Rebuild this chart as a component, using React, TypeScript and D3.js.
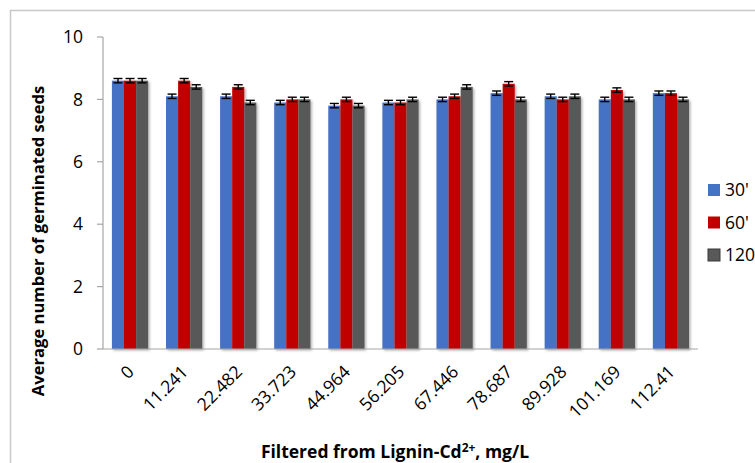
import React from "react";
import * as d3 from "d3";

// Concentration of filtrate (mg/L) used for each group of bars
const categories = ["0", "11.241", "22.482", "33.723", "44.964", "56.205", "67.446", "78.687", "89.928", "101.169", "112.41"];

// Average number of germinated seeds at each exposure time
const series30 = [8.6, 8.1, 8.1, 7.9, 7.8, 7.9, 8.0, 8.2, 8.1, 8.0, 8.2];
const series60 = [8.6, 8.6, 8.4, 8.0, 8.0, 7.9, 8.1, 8.5, 8.0, 8.3, 8.2];
const series120 = [8.6, 8.4, 7.9, 8.0, 7.8, 8.0, 8.4, 8.0, 8.1, 8.0, 8.0];

// Standard error shown on every bar
const errors30 = [0.07, 0.07, 0.07, 0.07, 0.07, 0.07, 0.07, 0.07, 0.07, 0.07, 0.07];
const errors60 = [0.07, 0.07, 0.07, 0.07, 0.07, 0.07, 0.07, 0.07, 0.07, 0.07, 0.07];
const errors120 = [0.07, 0.07, 0.07, 0.07, 0.07, 0.07, 0.07, 0.07, 0.07, 0.07, 0.07];

const seriesNames = ["30'", "60'", "120'"];
const yTicks = [0, 2, 4, 6, 8, 10];

const W = 755;
const H = 463;
const plot = { left: 103, right: 698, top: 37, bottom: 349 };
const colors = ["#4472C4", "#C00000", "#595959"];
const font = "'Open Sans', 'DejaVu Sans', sans-serif";

export default function App() {
  const seriesValues = [series30, series60, series120];
  const seriesErrors = [errors30, errors60, errors120];

  const x = d3
    .scaleBand<string>()
    .domain(categories)
    .range([plot.left, plot.right])
    .paddingInner(0.33)
    .paddingOuter(0.165);
  const xInner = d3
    .scaleBand<string>()
    .domain(seriesNames)
    .range([0, x.bandwidth()]);
  const y = d3.scaleLinear().domain([0, 10]).range([plot.bottom, plot.top]);

  const axisColor = "#a6a6a6";

  return (
    <svg
      width={W}
      height={H}
      style={{ position: "absolute", left: 0, top: 0, background: "#fff" }}
      fontFamily={font}
    >
      <defs>
        <filter id="barShadow" x="-20%" y="-5%" width="150%" height="115%">
          <feDropShadow dx="1.5" dy="1.5" stdDeviation="1" floodColor="#000" floodOpacity="0.3" />
        </filter>
      </defs>

      {/* chart frame */}
      <rect x={10.5} y={10.5} width={W + 20} height={H + 20} fill="#fff" stroke="#c8c8c8" strokeWidth={1.5} />

      {/* y axis */}
      <line x1={plot.left} x2={plot.left} y1={plot.top} y2={plot.bottom} stroke={axisColor} strokeWidth={1.2} />
      {yTicks.map((t) => (
        <g key={t}>
          <line x1={plot.left - 6} x2={plot.left} y1={y(t)} y2={y(t)} stroke={axisColor} strokeWidth={1.2} />
          <text x={83} y={y(t)} dy="0.35em" textAnchor="end" fontSize={17.5} fill="#000">
            {t}
          </text>
        </g>
      ))}

      {/* bars */}
      {seriesValues.map((vals, si) => (
        <g key={si} filter="url(#barShadow)">
          {vals.map((v, ci) => {
            const bx = (x(categories[ci]) as number) + (xInner(seriesNames[si]) as number);
            return (
              <rect
                key={ci}
                x={bx}
                y={y(v)}
                width={xInner.bandwidth()}
                height={y(0) - y(v)}
                fill={colors[si]}
              />
            );
          })}
        </g>
      ))}

      {/* error bars */}
      {seriesValues.map((vals, si) => (
        <g key={"e" + si} stroke="#000" strokeWidth={1.4}>
          {vals.map((v, ci) => {
            const cx = (x(categories[ci]) as number) + (xInner(seriesNames[si]) as number) + xInner.bandwidth() / 2;
            const e = seriesErrors[si][ci];
            const hi = y(v + e);
            const lo = y(v - e);
            return (
              <g key={ci}>
                <line x1={cx} x2={cx} y1={hi} y2={lo} />
                <line x1={cx - 4.5} x2={cx + 4.5} y1={hi} y2={hi} />
                <line x1={cx - 4.5} x2={cx + 4.5} y1={lo} y2={lo} />
              </g>
            );
          })}
        </g>
      ))}

      {/* x axis */}
      <line x1={plot.left} x2={plot.right} y1={plot.bottom} y2={plot.bottom} stroke={axisColor} strokeWidth={1.2} />
      {categories.map((c) => {
        const cx = (x(c) as number) + x.bandwidth() / 2 + 5;
        const cy = 373;
        return (
          <text
            key={c}
            x={cx}
            y={cy}
            textAnchor="end"
            fontSize={17.5}
            fill="#000"
            transform={`rotate(-45 ${cx} ${cy})`}
          >
            {c}
          </text>
        );
      })}

      {/* axis titles */}
      <text
        x={0}
        y={0}
        transform={`translate(44 241) rotate(-90)`}
        textAnchor="middle"
        fontSize={16.6}
        fontWeight="bold"
        fill="#000"
      >
        Average number of germinated seeds
      </text>
      <text x={395} y={458} textAnchor="middle" fontSize={17.5} fontWeight="bold" fill="#000">
        Filtered from Lignin-Cd
        <tspan dy={-6} fontSize={12}>
          2+
        </tspan>
        <tspan dy={6}>, mg/L</tspan>
      </text>

      {/* legend */}
      {seriesNames.map((n, i) => {
        const ly = 190 + i * 32.5;
        return (
          <g key={n}>
            <rect
              x={708}
              y={ly - 6}
              width={12}
              height={12}
              fill={colors[i]}
              stroke={i === 2 ? "#3a3a3a" : "none"}
              strokeWidth={1}
            />
            <text x={725} y={ly} dy="0.35em" fontSize={17.5} fill="#000">
              {n}
            </text>
          </g>
        );
      })}
    </svg>
  );
}
